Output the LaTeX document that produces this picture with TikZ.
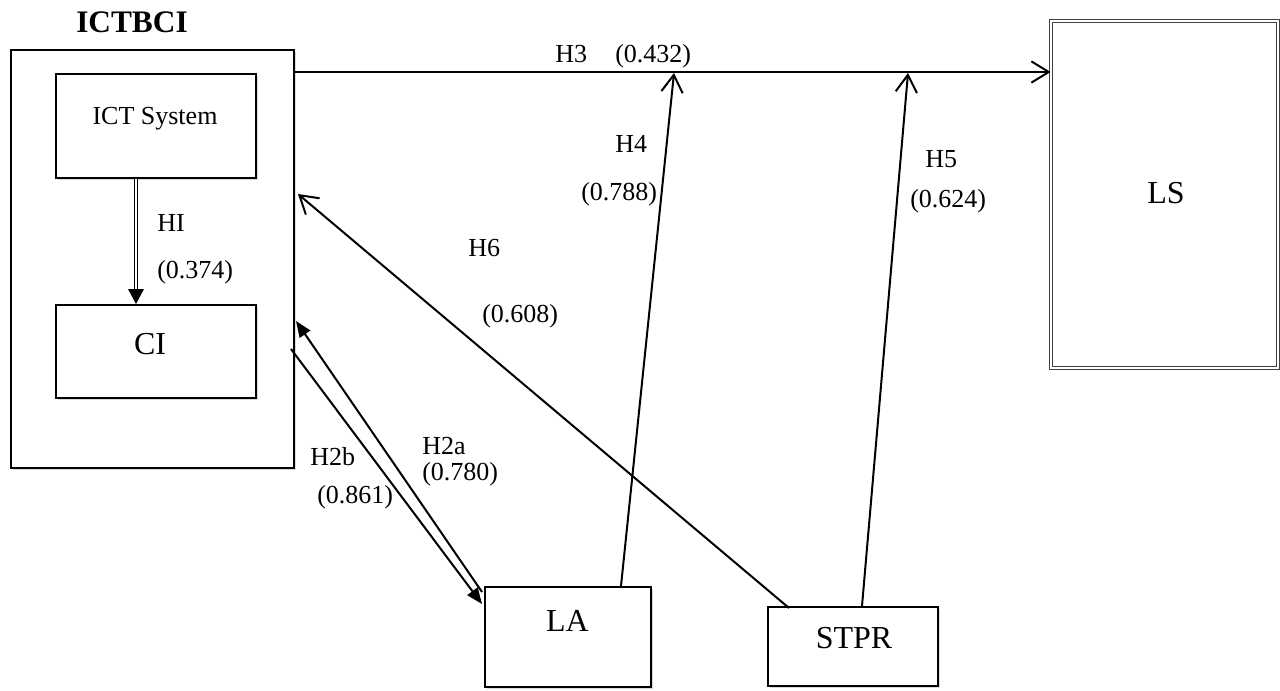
\documentclass[tikz,border=0pt]{standalone}
\usepackage{fontspec}
\setmainfont{Liberation Serif}
\usetikzlibrary{arrows.meta,calc,shadows}
\begin{document}
\begin{tikzpicture}[x=0.75pt,y=-0.75pt,
  box/.style={draw, line width=1.5pt, fill=white, inner sep=0pt,
    drop shadow={shadow xshift=1.5pt, shadow yshift=-1.5pt, opacity=0.3}},
  dblbox/.style={draw=black!75, double=white, line width=0.6pt, double distance=1.4pt, inner sep=0pt},
  lab/.style={inner sep=0pt, anchor=base west, font=\fontsize{19.5}{20}\selectfont},
  title/.style={inner sep=0pt, anchor=base, font=\fontsize{24}{26}\selectfont},
  barb/.style={line width=1.5pt, -{Straight Barb[length=13pt, width=16pt, line width=1.5pt]}},
  solid tip/.style={line width=1.5pt, -{Triangle[length=12pt, width=9.5pt]}},
  twin/.style={draw, double=white, line width=0.7pt, double distance=1.6pt,
    shorten >=10pt},
]
\useasboundingbox (0,0) rectangle (1280,690);

% outer construct and its two inner blocks
\node[box, minimum width=283*0.75pt, minimum height=418*0.75pt] (ictbci) at (152.5,259) {};
\node[box, minimum width=200*0.75pt, minimum height=104*0.75pt] (ict) at (156,126) {};
\node[box, minimum width=200*0.75pt, minimum height=93*0.75pt] (ci) at (156,351.5) {};

% outcome and moderators
\node[dblbox, minimum width=227*0.75pt, minimum height=347*0.75pt] (ls) at (1164.5,194.5) {};
\node[box, minimum width=166*0.75pt, minimum height=100*0.75pt] (la) at (568,637) {};
\node[box, minimum width=170*0.75pt, minimum height=79*0.75pt] (stpr) at (853,646.5) {};

% block captions
\node[inner sep=0pt, anchor=base, font=\fontsize{23.5}{26}\selectfont\bfseries] (tICTBCI) at (132,32) {ICTBCI};
\node[inner sep=0pt, anchor=base, font=\fontsize{19.5}{22}\selectfont] (tICT) at (155,124) {ICT System};
\node[title] (tCI) at (150,354) {CI};
\node[title] (tLS) at (1166,203) {LS};
\node[title] (tLA) at (567.5,631) {LA};
\node[title] (tSTPR) at (854,648) {STPR};

% H1: ICT System -> CI
\draw[twin] ($(ict.south west)+(81,0)$) coordinate (h1s) -- ($(ci.north west)+(81,0)$) coordinate (h1e);
\fill ($(h1e)+(-8,-15)$) -- (h1e) -- ($(h1e)+(8,-15)$) -- cycle;

% H3: ICTBCI -> LS
\draw[barb] ($(ictbci.north east)+(0,23)$) coordinate (h3s) -- (h3s -| ls.west);
\coordinate (t4) at (674,73);
\coordinate (t5) at (908,73);

% H4, H5: moderators onto H3
\draw[barb] ($(la.north west)+(137,0)$) -- (t4);
\draw[barb] ($(stpr.north west)+(95,0)$) -- (t5);

% H6: STPR -> ICTBCI
\draw[barb] ($(stpr.north west)+(22,2)$) -- ($(ictbci.north east)+(3,145)$);

% H2a / H2b: CI <-> LA
\draw[solid tip] ($(la.north west)+(-2,6)$) -- ($(ictbci.north east)+(1,272)$);
\draw[solid tip] ($(ictbci.north east)+(-4,300)$) -- ($(la.north west)+(-2,18)$);

% path coefficients
\node[lab] (l1) at (157,231) {HI};
\node[lab] (c1) at (157,278) {(0.374)};
\node[lab] (l3) at (555,62) {H3};
\node[lab] (c3) at (615,62) {(0.432)};
\node[lab] (l4) at (615,152) {H4};
\node[lab] (c4) at (581,200) {(0.788)};
\node[lab] (l5) at (925,167) {H5};
\node[lab] (c5) at (910,207) {(0.624)};
\node[lab] (l6) at (468,256) {H6};
\node[lab] (c6) at (482,322) {(0.608)};
\node[lab] (l2b) at (310,465) {H2b};
\node[lab] (c2b) at (317,503) {(0.861)};
\node[lab] (l2a) at (422,454) {H2a};
\node[lab] (c2a) at (422,480) {(0.780)};
\end{tikzpicture}
\end{document}
